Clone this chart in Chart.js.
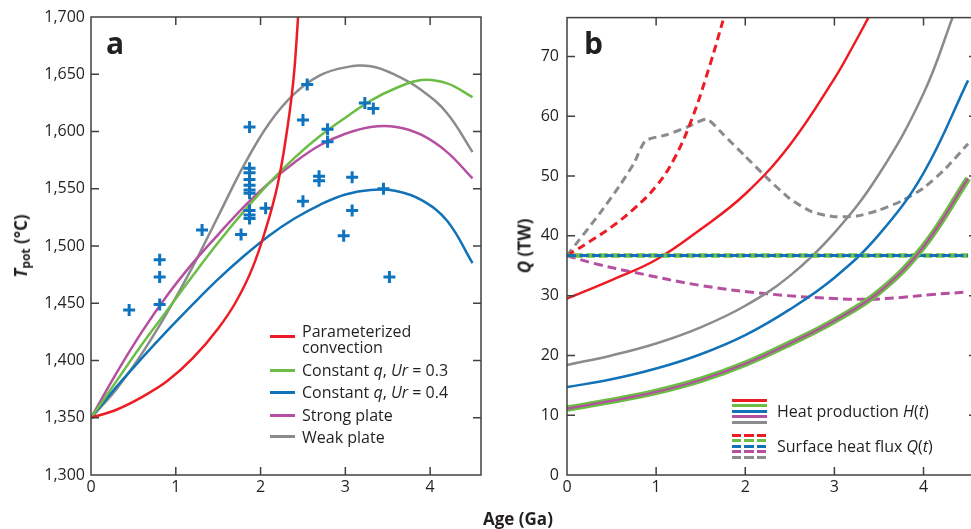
<!DOCTYPE html>
<html>
<head>
<meta charset="utf-8">
<script src="https://cdn.jsdelivr.net/npm/chart.js@4.4.1/dist/chart.umd.min.js"></script>
<style>
  html, body { margin: 0; padding: 0; background: #fff; }
  body { width: 971px; height: 529px; overflow: hidden; position: relative; font-family: 'Open Sans', sans-serif; color: #231f20; }
  .panel { position: absolute; top: 0; height: 529px; }
  #panelA { left: 0; width: 490px; }
  #panelB { left: 490px; width: 490px; }
  .txt { position: absolute; white-space: nowrap; font-size: 16px; line-height: 22px; }
  .big { position: absolute; font-weight: bold; font-size: 30px; line-height: 30px; }
  .rot { position: absolute; white-space: nowrap; font-weight: bold; font-size: 17px; line-height: 1; transform: translate(-50%, -50%) rotate(-90deg); }
  .sw { position: absolute; height: 3px; }
  sub { font-size: 12px; vertical-align: -3px; }
</style>
</head>
<body>
<div id="panelA" class="panel"><canvas id="chartA"></canvas></div>
<div id="panelB" class="panel"><canvas id="chartB"></canvas></div>

<div class="big" style="left:106px; top:28px">a</div>
<div class="big" style="left:584px; top:28px">b</div>
<div class="rot" style="left:22px; top:246px"><i>T</i><sub>pot</sub> (°C)</div>
<div class="rot" style="left:524px; top:246px"><i>Q</i> (TW)</div>
<div class="txt" style="left:483px; top:508px; font-weight:bold; font-size:17px">Age (Ga)</div>

<!-- legend, panel a -->
<div class="sw" style="left:270px; top:335px; width:25px; background:#ed1c24"></div>
<div class="sw" style="left:270px; top:368.5px; width:25px; background:#6cbd45"></div>
<div class="sw" style="left:270px; top:391px; width:25px; background:#1172b8"></div>
<div class="sw" style="left:270px; top:413.5px; width:25px; background:#b54fa0"></div>
<div class="sw" style="left:270px; top:435px; width:25px; background:#8b8b8d"></div>
<div class="txt" style="left:302px; top:320px">Parameterized</div>
<div class="txt" style="left:302px; top:336px">convection</div>
<div class="txt" style="left:302px; top:359px">Constant <i>q</i>, <i>Ur</i> = 0.3</div>
<div class="txt" style="left:302px; top:381px">Constant <i>q</i>, <i>Ur</i> = 0.4</div>
<div class="txt" style="left:302px; top:404px">Strong plate</div>
<div class="txt" style="left:302px; top:426px">Weak plate</div>

<!-- legend, panel b -->
<div class="sw" style="left:732px; top:398.5px; width:35px; background:#ed1c24"></div>
<div class="sw" style="left:732px; top:404px; width:35px; background:#6cbd45"></div>
<div class="sw" style="left:732px; top:409.5px; width:35px; background:#1172b8"></div>
<div class="sw" style="left:732px; top:415px; width:35px; background:#b54fa0"></div>
<div class="sw" style="left:732px; top:420.5px; width:35px; background:#8b8b8d"></div>
<div class="sw" style="left:732px; top:433.5px; width:35px; background:repeating-linear-gradient(90deg,#ed1c24 0 9px,transparent 9px 12.5px)"></div>
<div class="sw" style="left:732px; top:439px; width:35px; background:repeating-linear-gradient(90deg,#6cbd45 0 9px,transparent 9px 12.5px)"></div>
<div class="sw" style="left:732px; top:444.5px; width:35px; background:repeating-linear-gradient(90deg,#1172b8 0 9px,transparent 9px 12.5px)"></div>
<div class="sw" style="left:732px; top:450px; width:35px; background:repeating-linear-gradient(90deg,#b54fa0 0 9px,transparent 9px 12.5px)"></div>
<div class="sw" style="left:732px; top:455.5px; width:35px; background:repeating-linear-gradient(90deg,#8b8b8d 0 9px,transparent 9px 12.5px)"></div>
<div class="txt" style="left:777px; top:399.5px">Heat production <i>H</i>(<i>t</i>)</div>
<div class="txt" style="left:777px; top:435px">Surface heat flux <i>Q</i>(<i>t</i>)</div>

<script>
// ---- panel a: mantle potential temperature (°C) vs age (Ga)
const ageA = [0, 0.3, 0.6, 0.9, 1.2, 1.5, 1.8, 2.1, 2.4, 2.7, 3.0, 3.3, 3.6, 3.9, 4.2, 4.5];
const tUr03 = [1350, 1382, 1414, 1444, 1474, 1503, 1530, 1555, 1577, 1596, 1612, 1627, 1638, 1645, 1642, 1630];
const tUr04 = [1350, 1377, 1402, 1426, 1449, 1471, 1491, 1509, 1524, 1536, 1545, 1549, 1548, 1540, 1522, 1485];
const tStrong = [1350, 1389, 1425, 1457, 1485, 1510, 1534, 1555, 1573, 1588, 1598, 1604, 1604, 1597, 1582, 1559];
const tWeak = [1350, 1375, 1406, 1442, 1482, 1526, 1570, 1607, 1633, 1649, 1656, 1657, 1649, 1636, 1616, 1582];
const ageParam = [0, 0.3, 0.6, 0.9, 1.2, 1.5, 1.7, 1.9, 2.05, 2.2, 2.3, 2.4, 2.5];
const tParam = [1350, 1357, 1368, 1382, 1402, 1428, 1450, 1480, 1512, 1553, 1595, 1655, 1770];
// petrological estimates (crosses)
const obsAge = [0.45, 0.81, 0.81, 0.81, 1.31, 1.77, 1.87, 1.87, 1.87, 1.87, 1.87, 1.87, 1.87, 1.87, 1.87, 1.87,
  2.06, 2.50, 2.50, 2.55, 2.69, 2.69, 2.79, 2.79, 2.98, 3.08, 3.08, 3.23, 3.33, 3.45, 3.52];
const obsTemp = [1444, 1488, 1473, 1449, 1514, 1510, 1604, 1568, 1564, 1558, 1553, 1549, 1546, 1531, 1527, 1524,
  1533, 1539, 1610, 1641, 1561, 1557, 1602, 1591, 1509, 1560, 1531, 1625, 1620, 1550, 1473];

// ---- panel b: heat production H(t) and surface heat flux Q(t), TW
const ageB = [0, 0.5, 1, 1.5, 2, 2.5, 3, 3.5, 4, 4.5];
const hUr03 = [11.1, 12.4, 13.9, 15.9, 18.6, 22.0, 25.8, 30.6, 38.2, 49.6];
const hStrong = [11.1, 12.4, 13.9, 15.9, 18.6, 22.0, 25.8, 30.6, 38.2, 49.6];
const hUr04 = [14.7, 16.0, 17.8, 20.2, 23.4, 27.7, 33.0, 40.2, 50.5, 66.0];
const ageWeakH = [0, 0.5, 1, 1.5, 2, 2.5, 3, 3.5, 4, 4.35];
const hWeak = [18.4, 20.0, 22.0, 24.7, 28.3, 33.3, 40.5, 50.3, 63.8, 77.5];
const ageParamH = [0, 0.5, 1, 1.5, 2, 2.5, 3, 3.2, 3.4];
const hParam = [29.5, 32.6, 36.0, 41.1, 47.0, 55.2, 66.3, 71.5, 77.0];
const ageParamQ = [0, 0.25, 0.5, 0.75, 1.0, 1.2, 1.4, 1.6, 1.75];
const qParam = [36.7, 39.0, 41.5, 44.5, 48.3, 52.8, 59.5, 68.4, 76.0];
const ageWeakQ = [0, 0.37, 0.6, 0.75, 0.88, 1.12, 1.35, 1.57, 1.75, 2.0, 2.25, 2.5, 2.75, 3.0, 3.25, 3.5, 3.75, 4.0, 4.25, 4.5];
const qWeak = [36.7, 43.8, 48.6, 52.1, 55.9, 56.9, 58.2, 59.5, 57.0, 53.3, 49.6, 46.2, 44.0, 43.2, 43.3, 44.3, 45.8, 48.0, 51.3, 55.4];
const ageStrongQ = [0, 0.3, 0.75, 1.5, 2.25, 3.0, 3.4, 3.75, 4.1, 4.5];
const qStrong = [36.7, 35.4, 33.9, 31.7, 30.3, 29.5, 29.4, 29.7, 30.2, 30.6];
const ageConstQ = [0, 4.5];
const qConst = [36.7, 36.7];

const RED = '#ed1c24', GREEN = '#6cbd45', BLUE = '#1172b8', PURPLE = '#b54fa0', GRAY = '#8b8b8d';
const INK = '#231f20';
const FONT = "'Open Sans', sans-serif";

const pts = (xs, ys) => xs.map((x, i) => ({ x: x, y: ys[i] }));
const line = (xs, ys, color, extra) => Object.assign({
  data: pts(xs, ys), showLine: true, borderColor: color, backgroundColor: color,
  borderWidth: 2.5, pointRadius: 0, clip: 0, tension: 0.4
}, extra || {});

// frame round the plot with inward tick marks on all four sides
const frameTicks = {
  id: 'frameTicks',
  afterDraw(chart) {
    const { ctx, chartArea: a } = chart;
    const x = chart.scales.x, y = chart.scales.y;
    const len = 8;
    ctx.save();
    ctx.strokeStyle = '#404040';
    ctx.lineWidth = 1.5;
    ctx.strokeRect(a.left, a.top, a.right - a.left, a.bottom - a.top);
    ctx.beginPath();
    x.ticks.forEach(t => {
      const p = x.getPixelForValue(t.value);
      if (p < a.left + 2 || p > a.right - 2) return;
      ctx.moveTo(p, a.bottom); ctx.lineTo(p, a.bottom - len);
      ctx.moveTo(p, a.top); ctx.lineTo(p, a.top + len);
    });
    y.ticks.forEach(t => {
      const p = y.getPixelForValue(t.value);
      if (p < a.top + 2 || p > a.bottom - 2) return;
      ctx.moveTo(a.left, p); ctx.lineTo(a.left + len, p);
      ctx.moveTo(a.right, p); ctx.lineTo(a.right - len, p);
    });
    ctx.stroke();
    ctx.restore();
  }
};

function options(yMin, yMax, yStep, pad, yWidth, yPad, fmt) {
  const tickFont = { family: FONT, size: 16 };
  return {
    responsive: true,
    maintainAspectRatio: false,
    animation: false,
    events: [],
    layout: { padding: pad },
    plugins: { legend: { display: false }, tooltip: { enabled: false } },
    scales: {
      x: {
        type: 'linear', min: 0, max: 4.6,
        grid: { display: false, drawTicks: false },
        border: { display: false },
        ticks: { stepSize: 1, padding: 3, color: INK, font: tickFont, maxRotation: 0 },
        afterBuildTicks: s => { s.ticks = s.ticks.filter(t => Number.isInteger(t.value)); },
        afterFit: s => { s.height = 54; }
      },
      y: {
        type: 'linear', min: yMin, max: yMax,
        grid: { display: false, drawTicks: false },
        border: { display: false },
        ticks: { stepSize: yStep, padding: yPad, color: INK, font: tickFont, callback: fmt },
        afterBuildTicks: s => { s.ticks = s.ticks.filter(t => Math.abs(t.value % yStep) < 1e-6); },
        afterFit: s => { s.width = yWidth; }
      }
    }
  };
}

new Chart(document.getElementById('chartA'), {
  type: 'scatter',
  data: {
    datasets: [
      line(ageParam, tParam, RED, { cubicInterpolationMode: 'monotone' }),
      { data: pts(obsAge, obsTemp), showLine: false, pointStyle: 'cross', pointRadius: 6,
        pointBorderWidth: 3, borderColor: '#0e74c0', backgroundColor: '#0e74c0' },
      line(ageA, tUr03, GREEN),
      line(ageA, tStrong, PURPLE),
      line(ageA, tUr04, BLUE),
      line(ageA, tWeak, GRAY)
    ]
  },
  options: options(1300, 1700, 50, { top: 17, right: 8, left: 0, bottom: 0 }, 91, 6,
    v => v.toLocaleString('en-US')),
  plugins: [frameTicks]
});

new Chart(document.getElementById('chartB'), {
  type: 'scatter',
  data: {
    datasets: [
      line(ageB, hStrong, PURPLE, { borderWidth: 2.2 }),
      line(ageB, hUr03, GREEN, { borderWidth: 6.5 }),
      line(ageConstQ, qConst, BLUE, { borderWidth: 3, borderDash: [9, 3.5] }),
      line(ageConstQ, qConst, GREEN, { borderWidth: 4.5, borderDash: [9, 3.5], borderDashOffset: 6 }),
      line(ageB, hUr04, BLUE),
      line(ageWeakH, hWeak, GRAY),
      line(ageParamH, hParam, RED),
      line(ageParamQ, qParam, RED, { borderWidth: 3, borderDash: [8, 5] }),
      line(ageWeakQ, qWeak, GRAY, { borderWidth: 3, borderDash: [8, 5], tension: 0.2 }),
      line(ageStrongQ, qStrong, PURPLE, { borderWidth: 3, borderDash: [9, 5] })
    ]
  },
  options: options(0, 76.5, 10, { top: 16, right: 3, left: 0, bottom: 0 }, 77, 8),
  plugins: [frameTicks]
});
</script>
</body>
</html>
